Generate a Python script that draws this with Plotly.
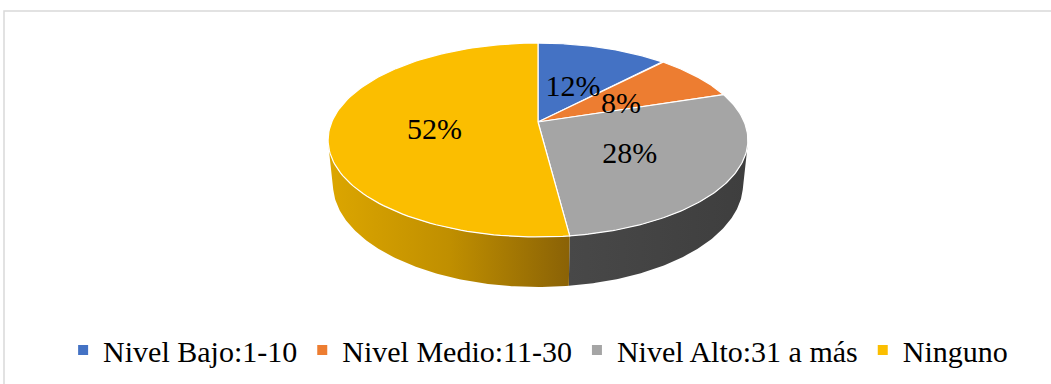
import numpy as np
import plotly.graph_objects as go

# ---- data ----
categories = ["Nivel Bajo:1-10", "Nivel Medio:11-30", "Nivel Alto:31 a más", "Ninguno"]
values = [12, 8, 28, 52]

# ---- style ----
top_colors = ["#4472C4", "#ED7D31", "#A5A5A5", "#FBBE00"]
side_scales = [
    [[0, "#2F528F"], [1, "#2F528F"]],
    [[0, "#AE5A21"], [1, "#AE5A21"]],
    [[0, "#484848"], [1, "#3E3E3E"]],
    [[0, "#DCA600"], [0.5, "#C08F00"], [1, "#8A6206"]],
]
FONT = "Liberation Serif, Times New Roman, serif"

W, H = 1051, 384
CX, CY = 538, 122          # screen position of the pie centre
F, D = 990.0, 4.80         # focal length, camera distance (radius units)
PHI = np.radians(27)       # camera elevation
HT = 0.2423                # pie thickness (radius units)


def project(u, v, z):
    d = D - v * np.cos(PHI) - z * np.sin(PHI)
    X = CX + F * u / d
    Y = CY + F * (v * np.sin(PHI) - z * np.cos(PHI)) / d
    return X, Y


def rim(t0, t1, z, r=1.0, n=120):
    th = np.radians(np.linspace(t0, t1, n))
    return project(r * np.sin(th), -r * np.cos(th), z)


total = float(sum(values))
ends = np.cumsum(values) / total * 360.0
starts = np.concatenate([[0.0], ends[:-1]])

vc = D * np.cos(PHI)
theta_r = np.degrees(np.arccos(-1.0 / vc))
theta_l = 360.0 - theta_r

fig = go.Figure()

# side walls
for i in range(len(values)):
    a = max(starts[i], theta_r)
    b = min(ends[i], theta_l)
    if a >= b:
        continue
    xt, yt = rim(a, b, 0.0)
    xb, yb = rim(b, a, -HT)
    xs = np.concatenate([xt, xb, xt[:1]])
    ys = np.concatenate([yt, yb, yt[:1]])
    fig.add_trace(go.Scatter(
        x=xs, y=ys, mode="lines", fill="toself",
        line=dict(width=0, color="rgba(0,0,0,0)"),
        fillgradient=dict(type="horizontal", colorscale=side_scales[i]),
        hoverinfo="skip", showlegend=False))

# top face
for i in range(len(values)):
    xa, ya = rim(starts[i], ends[i], 0.0)
    x0, y0 = project(0.0, 0.0, 0.0)
    xs = np.concatenate([[x0], xa, [x0]])
    ys = np.concatenate([[y0], ya, [y0]])
    fig.add_trace(go.Scatter(
        x=xs, y=ys, mode="lines", fill="toself",
        fillcolor=top_colors[i],
        line=dict(width=1.2, color="white"),
        hoverinfo="skip", showlegend=False))

# labels
lx, ly, lt = [], [], []
for i, v in enumerate(values):
    mid = np.radians((starts[i] + ends[i]) / 2.0)
    x, y = project(0.5 * np.sin(mid), -0.5 * np.cos(mid), 0.0)
    lx.append(x)
    ly.append(y + 7)
    lt.append(f"{round(v / total * 100)}%")
fig.add_trace(go.Scatter(
    x=lx, y=ly, mode="text", text=lt, textposition="middle center",
    textfont=dict(family=FONT, size=30, color="black"),
    hoverinfo="skip", showlegend=False))

# legend entries
for name, c in zip(categories, top_colors):
    fig.add_trace(go.Scatter(
        x=[None], y=[None], mode="markers", name=name,
        marker=dict(symbol="square", size=10, color=c)))

# chart frame
fig.add_shape(type="rect", x0=4, y0=11, x1=W + 5, y1=H + 5,
              xref="x", yref="y", line=dict(color="#D9D9D9", width=1.5),
              layer="below")

fig.update_layout(
    width=W, height=H,
    margin=dict(l=0, r=0, t=0, b=0),
    paper_bgcolor="white", plot_bgcolor="white",
    xaxis=dict(range=[0, W], visible=False, fixedrange=True),
    yaxis=dict(range=[H, 0], visible=False, fixedrange=True),
    showlegend=True,
    legend=dict(orientation="h", x=0.512, xanchor="center",
                y=(H - 350) / H, yanchor="middle",
                font=dict(family=FONT, size=30, color="black"),
                itemwidth=30, tracegroupgap=0,
                bgcolor="rgba(0,0,0,0)"),
    hovermode=False,
)

fig.write_html("out.html")
